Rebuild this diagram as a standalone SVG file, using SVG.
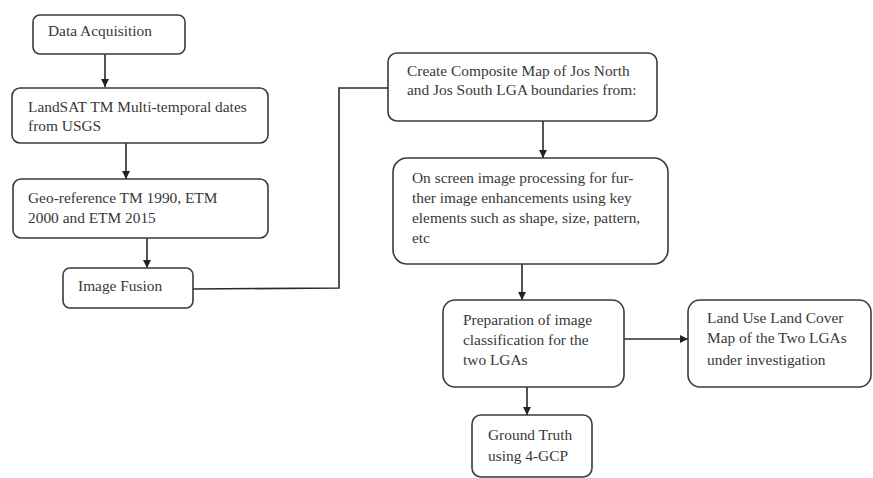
<svg xmlns="http://www.w3.org/2000/svg" width="873" height="478" viewBox="0 0 873 478">
<defs>
<marker id="ah" viewBox="0 0 10 10" refX="10" refY="5" markerWidth="8" markerHeight="8" markerUnits="userSpaceOnUse" orient="auto">
<path d="M0,0 L10,5 L0,10 z" fill="#222"/>
</marker>
<style>
.box{fill:#fff;stroke:#3a3a3a;stroke-width:1.6}
.t{font-family:'Liberation Serif','Times New Roman',serif;font-size:15.4px;fill:#383838}
.c{fill:none;stroke:#2a2a2a;stroke-width:1.6}
.ca{fill:none;stroke:#2a2a2a;stroke-width:1.6;marker-end:url(#ah)}
</style>
</defs>
<rect width="873" height="478" fill="#fff"/>
<g id="connectors">
<line class="ca" x1="105" y1="54" x2="105" y2="87"/>
<line class="ca" x1="126" y1="143" x2="126" y2="179"/>
<line class="ca" x1="147" y1="238" x2="147" y2="268"/>
<polyline class="c" points="193,289 339,288 339,88 388,88"/>
<line class="ca" x1="543" y1="121" x2="543" y2="158"/>
<line class="ca" x1="522" y1="264" x2="522" y2="300"/>
<line class="ca" x1="527" y1="387" x2="527" y2="415"/>
<line class="ca" x1="624" y1="339" x2="688" y2="339"/>
</g>
<g id="n1">
<rect class="box" x="33" y="15" width="152" height="39" rx="7"/>
<text class="t" x="48" y="36">Data Acquisition</text>
</g>
<g id="n2">
<rect class="box" x="12" y="88" width="256" height="55" rx="8"/>
<text class="t" x="28" y="112">LandSAT TM Multi-temporal dates</text>
<text class="t" x="28" y="131">from USGS</text>
</g>
<g id="n3">
<rect class="box" x="13" y="179" width="255" height="59" rx="8"/>
<text class="t" x="28" y="203">Geo-reference TM 1990, ETM</text>
<text class="t" x="28" y="223">2000 and ETM 2015</text>
</g>
<g id="n4">
<rect class="box" x="63" y="268" width="130" height="40" rx="7"/>
<text class="t" x="78" y="291">Image Fusion</text>
</g>
<g id="n5">
<rect class="box" x="388" y="53" width="269" height="68" rx="9"/>
<text class="t" x="407" y="76">Create Composite Map of Jos North</text>
<text class="t" x="407" y="95">and Jos South LGA boundaries from:</text>
</g>
<g id="n6">
<rect class="box" x="393" y="158" width="275" height="106" rx="14"/>
<text class="t" x="412" y="183">On screen image processing for fur-</text>
<text class="t" x="412" y="203">ther image enhancements using key</text>
<text class="t" x="412" y="223">elements such as shape, size, pattern,</text>
<text class="t" x="412" y="243">etc</text>
</g>
<g id="n7">
<rect class="box" x="443" y="300" width="181" height="87" rx="12"/>
<text class="t" x="463" y="325">Preparation of image</text>
<text class="t" x="463" y="345">classification for the</text>
<text class="t" x="463" y="365">two LGAs</text>
</g>
<g id="n8">
<rect class="box" x="472" y="415" width="120" height="62" rx="9"/>
<text class="t" x="488" y="440">Ground Truth</text>
<text class="t" x="488" y="461">using 4-GCP</text>
</g>
<g id="n9">
<rect class="box" x="688" y="300" width="183" height="87" rx="12"/>
<text class="t" x="707" y="323">Land Use Land Cover</text>
<text class="t" x="707" y="343">Map of the Two LGAs</text>
<text class="t" x="707" y="365">under investigation</text>
</g>
</svg>
